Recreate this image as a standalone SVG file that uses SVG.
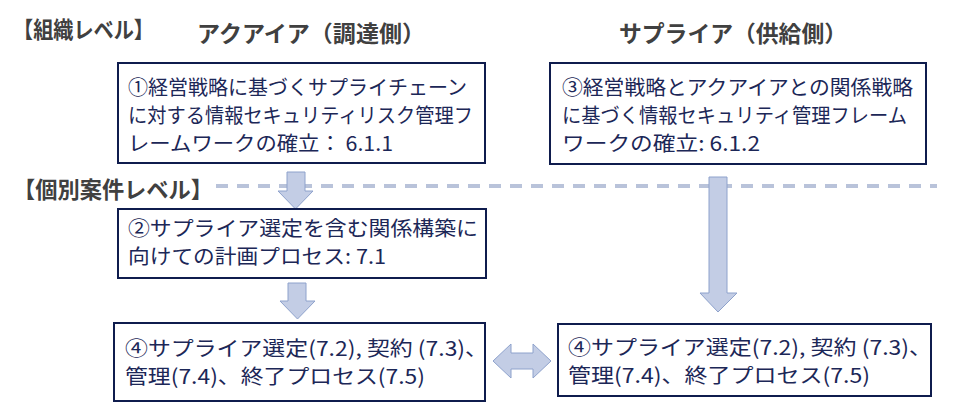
<svg xmlns="http://www.w3.org/2000/svg" width="962" height="416" viewBox="0 0 962 416">
<style>
.title{font-family:"Noto Sans CJK JP","Noto Sans",sans-serif;font-weight:bold;font-size:22.5px;fill:#404040}
.box{fill:#ffffff;stroke:#0f1c4d;stroke-width:2}
.txt{font-family:"Noto Sans CJK JP","Noto Sans",sans-serif;font-size:20.5px;fill:#1c2757}
.arrow{fill:#c3cde5;stroke:#8ea2cc;stroke-width:1}
.dash{stroke:#b9c3da;stroke-width:4;stroke-dasharray:12 9;fill:none}
</style>
<rect width="962" height="416" fill="#ffffff"/>
<g id="titles">
<text class="title" x="13" y="38" textLength="141" lengthAdjust="spacingAndGlyphs">【組織レベル】</text>
<text class="title" x="197" y="42" textLength="228" lengthAdjust="spacingAndGlyphs">アクアイア（調達側）</text>
<text class="title" x="619" y="42" textLength="228" lengthAdjust="spacingAndGlyphs">サプライア（供給側）</text>
<text class="title" x="13" y="198" textLength="200" lengthAdjust="spacingAndGlyphs">【個別案件レベル】</text>
</g>
<g id="connectors">
<line class="dash" x1="216" y1="186" x2="937" y2="186"/>
<polygon class="arrow" points="287,172 305,172 305,191 313,191 295.5,209 278,191 287,191"/>
<polygon class="arrow" points="288,283 306,283 306,301 315,301 297.5,319 280,301 288,301"/>
<polygon class="arrow" points="709,177 727,177 727,293 737,293 718,312 700,293 709,293"/>
<polygon class="arrow" points="493,361 511,344 511,353 533,353 533,344 551,361 533,378 533,369 511,369 511,378"/>
</g>
<g id="node1">
<rect class="box" x="118" y="63" width="367" height="100"/>
<text class="txt" x="128" y="95" textLength="339" lengthAdjust="spacingAndGlyphs">①経営戦略に基づくサプライチェーン</text>
<text class="txt" x="128" y="123" textLength="345" lengthAdjust="spacingAndGlyphs">に対する情報セキュリティリスク管理フ</text>
<text class="txt" x="128" y="151" textLength="265" lengthAdjust="spacingAndGlyphs">レームワークの確立： 6.1.1</text>
</g>
<g id="node3">
<rect class="box" x="550" y="63" width="376" height="101"/>
<text class="txt" x="562" y="95" textLength="351" lengthAdjust="spacingAndGlyphs">③経営戦略とアクアイアとの関係戦略</text>
<text class="txt" x="562" y="123" textLength="345" lengthAdjust="spacingAndGlyphs">に基づく情報セキュリティ管理フレーム</text>
<text class="txt" x="562" y="151" textLength="198" lengthAdjust="spacingAndGlyphs">ワークの確立: 6.1.2</text>
</g>
<g id="node2">
<rect class="box" x="118" y="209" width="368" height="69"/>
<text class="txt" x="128" y="236" textLength="350" lengthAdjust="spacingAndGlyphs">②サプライア選定を含む関係構築に</text>
<text class="txt" x="128" y="264" textLength="258" lengthAdjust="spacingAndGlyphs">向けての計画プロセス: 7.1</text>
</g>
<g id="node4a">
<rect class="box" x="114" y="323" width="371" height="78"/>
<text class="txt" x="125" y="356" textLength="363" lengthAdjust="spacingAndGlyphs">④サプライア選定(7.2), 契約 (7.3)、</text>
<text class="txt" x="125" y="384" textLength="300" lengthAdjust="spacingAndGlyphs">管理(7.4)、終了プロセス(7.5)</text>
</g>
<g id="node4b">
<rect class="box" x="558" y="324" width="373" height="72"/>
<text class="txt" x="568" y="355" textLength="364" lengthAdjust="spacingAndGlyphs">④サプライア選定(7.2), 契約 (7.3)、</text>
<text class="txt" x="568" y="383" textLength="302" lengthAdjust="spacingAndGlyphs">管理(7.4)、終了プロセス(7.5)</text>
</g>
</svg>
